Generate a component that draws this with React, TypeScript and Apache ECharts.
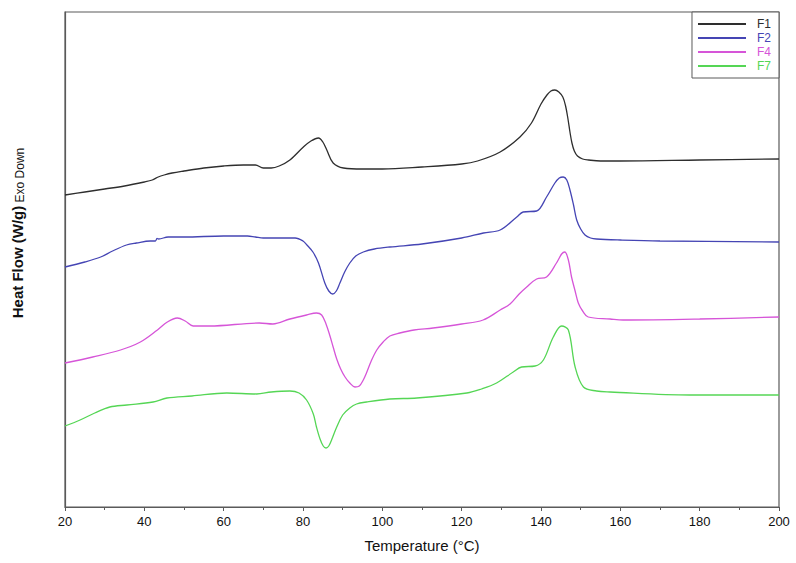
import React, { useEffect, useRef } from "react";
import * as echarts from "echarts";

// Temperature (°C) and heat flow (arbitrary offset units, exo down)
const f1Temp = [20, 25, 30, 35, 40, 42, 43.5, 45, 47, 50, 55, 60, 65, 68, 70, 72, 74, 76.7, 80.1, 82, 83.9, 85, 86, 87.6, 90.2, 95, 100, 110, 120, 124, 129.7, 134.7, 137.6, 140, 141.5, 142.5, 143.5, 144.5, 145.5, 146.2, 146.8, 147.3, 147.8, 148.4, 149.2, 150.5, 152, 155, 160, 180, 200];
const f1Flow = [312, 315, 318, 321, 325, 327, 330, 332, 334, 336, 339, 341, 342, 342, 339, 339, 341, 347, 360, 366, 369, 365, 357, 344, 339, 338, 338, 340, 343, 346, 355, 370, 384, 403, 412, 416, 417, 415, 410, 401, 388, 375, 364, 356, 351, 348, 347, 346, 346, 347, 348];

const f2Temp = [20, 25, 29, 32, 35.5, 38, 41.5, 42.8, 43.2, 43.6, 46, 50, 60, 66, 68, 70, 75, 78, 80, 81, 82.5, 83.9, 85.5, 86.5, 87.5, 88.4, 89.3, 90.5, 91.8, 93.3, 95.2, 98, 101.9, 110, 120, 125.5, 129.7, 133.9, 135.5, 138.9, 141.4, 143.5, 144.6, 145.6, 146.5, 147.3, 148.2, 149, 150, 151.1, 152.5, 154, 160, 170, 200];
const f2Flow = [240, 245, 250, 256, 262, 264, 266, 266, 268.5, 268, 270, 270, 271, 271, 270, 269, 269, 269, 266, 262, 255, 244, 224, 216, 213, 216, 224, 235, 244, 251, 255, 258, 260, 263, 269, 274, 277, 290, 295, 296, 310, 324, 329, 330, 327, 317, 302, 287, 278, 272, 269, 268, 267, 266, 265];

const f4Temp = [20, 27, 34, 39, 43.3, 45.8, 48.3, 50.3, 52.3, 56.5, 69, 72.4, 76.7, 80.9, 83.4, 84.7, 85.8, 86.8, 87.6, 88.5, 89.5, 90.6, 91.8, 93.1, 94.2, 95.2, 96, 97.2, 98.6, 100.2, 101.9, 104.4, 108, 112.8, 120, 125.4, 129.7, 132.2, 134.5, 136.4, 138.9, 141.4, 143.9, 145.2, 146, 146.9, 147.7, 148.6, 149.4, 150.5, 151.9, 157.4, 160.7, 180, 200];
const f4Flow = [144, 150, 157, 165, 177, 185, 189, 186, 181, 181, 184, 183, 188, 192, 194, 192, 183, 171, 160, 148, 138, 130, 124, 120, 121, 127, 134, 146, 157, 165, 171, 174, 177, 179, 183, 187, 197, 203, 213, 220, 228, 230, 244, 253, 255, 247, 230, 216, 204, 196, 190, 188, 187, 188, 190];

const f7Temp = [20, 23.8, 27.5, 31.3, 35.6, 42.2, 45.7, 52, 60.8, 68.3, 72, 76.7, 79, 80.9, 82.6, 83.4, 84.3, 85.1, 85.8, 86.5, 87.2, 88.5, 90, 91.8, 93.5, 96, 101.9, 108.7, 121.3, 125, 128.8, 133, 135.1, 138.5, 140.6, 143.1, 145.2, 146.9, 148.6, 150.7, 154, 157.4, 177.5, 200];
const f7Flow = [81, 87, 94, 100, 102, 105, 109, 111, 114, 113, 115, 116, 114, 107, 93, 80, 68, 61, 59, 61, 67, 80, 92, 99, 103, 105, 108, 109, 114, 118, 124, 135, 140, 141, 147, 170, 181, 177, 140, 120, 116, 115, 112, 112];

const seriesNames = ["F1", "F2", "F4", "F7"];
const seriesColors = ["#2e2e2e", "#4545b4", "#d655d8", "#55d655"];
const xTicks = [20, 40, 60, 80, 100, 120, 140, 160, 180, 200];

const FONT = "'Liberation Sans', Arial, Helvetica, sans-serif";

function zip(t: number[], v: number[]) {
  return t.map((x, i) => [x, v[i]]);
}

export default function App() {
  const ref = useRef<HTMLDivElement>(null);
  useEffect(() => {
    if (!ref.current) return;
    const chart = echarts.init(ref.current, null, { renderer: "svg" });
    const temps = [f1Temp, f2Temp, f4Temp, f7Temp];
    const flows = [f1Flow, f2Flow, f4Flow, f7Flow];
    chart.setOption({
      animation: false,
      backgroundColor: "#ffffff",
      grid: {
        left: 65,
        right: 17,
        top: 12,
        bottom: 56,
        show: true,
        borderColor: "#5a5a5a",
        borderWidth: 1.2,
      },
      legend: {
        orient: "vertical",
        right: 17,
        top: 12,
        backgroundColor: "#ffffff",
        borderColor: "#5a5a5a",
        borderWidth: 1,
        borderRadius: 0,
        padding: [6, 8, 6, 6],
        itemWidth: 48,
        itemHeight: 2,
        itemGap: 2,
        icon: "rect",
        selectedMode: false,
        textStyle: { fontSize: 12, fontFamily: FONT, lineHeight: 12, padding: [0, 0, 0, 6] },
        data: seriesNames.map((n, i) => ({ name: n, textStyle: { color: seriesColors[i] } })),
      },
      xAxis: {
        type: "value",
        min: 20,
        max: 200,
        interval: 20,
        name: "Temperature (°C)",
        nameLocation: "middle",
        nameGap: 31,
        nameTextStyle: { fontSize: 15, fontFamily: FONT, color: "#111" },
        axisLine: { show: true, lineStyle: { color: "#5a5a5a", width: 1.2 } },
        axisTick: { show: true, inside: false, length: 4, lineStyle: { color: "#5a5a5a" } },
        minorTick: { show: true, splitNumber: 2, length: 3, lineStyle: { color: "#5a5a5a" } },
        axisLabel: {
          fontSize: 13,
          fontFamily: FONT,
          color: "#111",
          margin: 8,
          customValues: xTicks,
        },
        splitLine: { show: false },
      },
      yAxis: {
        type: "value",
        min: 0,
        max: 495,
        axisLine: { show: true, lineStyle: { color: "#5a5a5a", width: 1.2 } },
        axisTick: { show: false },
        axisLabel: { show: false },
        splitLine: { show: false },
      },
      graphic: [
        {
          type: "text",
          x: 17,
          y: 233,
          rotation: Math.PI / 2,
          style: {
            text: "{a|Heat Flow (W/g)} {b|Exo Down}",
            align: "center",
            verticalAlign: "middle",
            rich: {
              a: { fontSize: 15, fontWeight: "bold", fontFamily: FONT, fill: "#111", lineHeight: 18 },
              b: { fontSize: 12, fontFamily: FONT, fill: "#111", verticalAlign: "bottom", lineHeight: 14, padding: [6, 0, 0, 0] },
            },
          },
        },
      ],
      series: seriesNames.map((n, i) => ({
        name: n,
        type: "line",
        data: zip(temps[i], flows[i]),
        showSymbol: false,
        smooth: 0.35,
        lineStyle: { color: seriesColors[i], width: 1.3 },
        itemStyle: { color: seriesColors[i] },
        z: 2,
      })),
    });
    return () => chart.dispose();
  }, []);
  return (
    <div
      ref={ref}
      style={{ position: "fixed", left: 0, top: 0, width: 796, height: 563, background: "#fff" }}
    />
  );
}
